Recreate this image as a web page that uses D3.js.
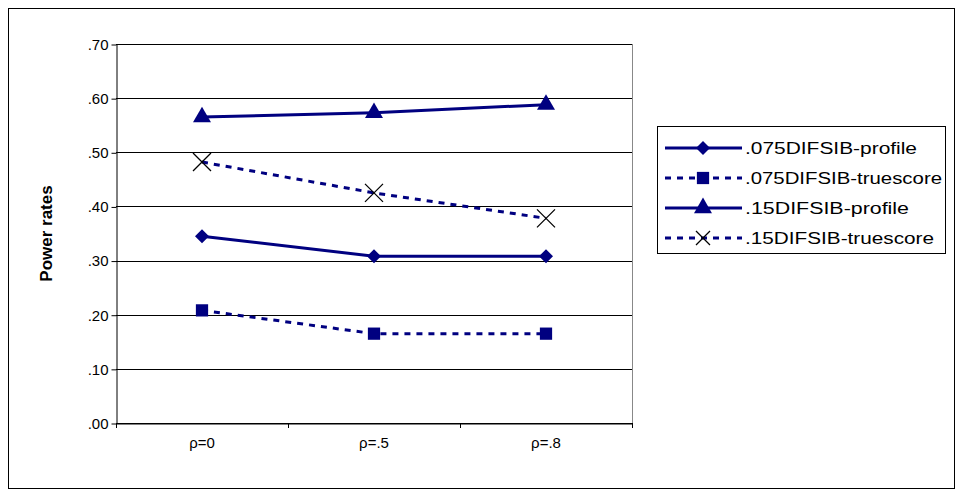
<!DOCTYPE html>
<html><head><meta charset="utf-8">
<script src="https://d3js.org/d3.v7.min.js"></script>
<style>body{margin:0;background:#fff}text{font-family:Arial,"Liberation Sans",sans-serif}</style>
</head><body>
<svg id="c" width="962" height="495"></svg>
<script>
// data
var categories = ["ρ=0", "ρ=.5", "ρ=.8"];
var seriesNames = [".075DIFSIB-profile", ".075DIFSIB-truescore", ".15DIFSIB-profile", ".15DIFSIB-truescore"];
var prof075 = [0.345, 0.308, 0.308];
var true075 = [0.208, 0.165, 0.165];
var prof15 = [0.565, 0.573, 0.588];
var true15 = [0.482, 0.425, 0.378];
var yTicks = [0, 0.1, 0.2, 0.3, 0.4, 0.5, 0.6, 0.7];

var svg = d3.select("#c");
var navy = "#000080";
var pLeft = 116, pRight = 632, pTop = 44, pBottom = 423;

svg.append("rect").attr("x", 8.5).attr("y", 8.5).attr("width", 946).attr("height", 480)
  .attr("fill", "none").attr("stroke", "#000");

var x = d3.scaleBand().domain(categories).range([pLeft, pRight]);
var y = d3.scaleLinear().domain([0, 0.7]).range([pBottom, pTop]);

// gridlines
svg.append("g").selectAll("line").data(yTicks).join("line")
  .attr("x1", pLeft).attr("x2", pRight)
  .attr("y1", d => Math.round(y(d)) + 0.5).attr("y2", d => Math.round(y(d)) + 0.5)
  .attr("stroke", "#000").attr("stroke-width", 1);
svg.append("line").attr("x1", pRight + 0.5).attr("x2", pRight + 0.5).attr("y1", pTop).attr("y2", pBottom)
  .attr("stroke", "#888");

var fmt = d => d3.format(".2f")(d).replace(/^0/, "");
var ya = svg.append("g").attr("transform", "translate(" + (pLeft + 0.5) + ",0.5)")
  .call(d3.axisLeft(y).tickValues(yTicks).tickFormat(fmt).tickSize(5).tickSizeOuter(0));
ya.selectAll("text").attr("font-size", 15).attr("fill", "#000");
ya.selectAll("line,path").attr("stroke", "#000");

var xa = svg.append("g").attr("transform", "translate(0," + (pBottom + 0.5) + ")")
  .call(d3.axisBottom(x).tickSize(0).tickSizeOuter(0).tickPadding(14));
xa.selectAll("text").attr("font-size", 15).attr("fill", "#000");
xa.selectAll("path").attr("stroke", "#000");
svg.append("g").selectAll("line").data(d3.range(categories.length + 1)).join("line")
  .attr("x1", i => pLeft + i * x.bandwidth() + 0.5).attr("x2", i => pLeft + i * x.bandwidth() + 0.5)
  .attr("y1", pBottom).attr("y2", pBottom + 5).attr("stroke", "#000");

svg.append("text").attr("transform", "translate(52," + ((pTop + pBottom) / 2) + ") rotate(-90)")
  .attr("text-anchor", "middle").attr("font-size", 17).attr("font-weight", "bold").text("Power rates");

var series = [
  {name: seriesNames[0], v: prof075, dash: null, sym: "diamond", tl: 172},
  {name: seriesNames[1], v: true075, dash: "6,6", sym: d3.symbolSquare, size: 150, tl: 197},
  {name: seriesNames[2], v: prof15, dash: null, sym: d3.symbolTriangle, size: 140, tl: 164},
  {name: seriesNames[3], v: true15, dash: "6,6", sym: "x", tl: 189}
];
var cx = d => x(d) + x.bandwidth() / 2;
var line = d3.line().x((d, i) => cx(categories[i])).y(d => y(d));

function marker(g, s, px, py, r) {
  if (s.sym === "x") {
    r = r || 9;
    g.append("path").attr("d", "M" + (px - r) + "," + (py - r) + "L" + (px + r) + "," + (py + r) +
      "M" + (px + r) + "," + (py - r) + "L" + (px - r) + "," + (py + r))
      .attr("stroke", "#000").attr("stroke-width", 1.3);
  } else if (s.sym === "diamond") {
    g.append("path").attr("d", "M" + px + "," + (py - 7) + "L" + (px + 7) + "," + py + "L" + px + "," + (py + 7) + "L" + (px - 7) + "," + py + "Z")
      .attr("fill", navy);
  } else {
    g.append("path").attr("d", d3.symbol().type(s.sym).size(s.size)())
      .attr("transform", "translate(" + px + "," + py + ")").attr("fill", navy);
  }
}

series.forEach(function(s) {
  svg.append("path").datum(s.v).attr("d", line).attr("fill", "none")
    .attr("stroke", navy).attr("stroke-width", 3).attr("stroke-dasharray", s.dash);
  var g = svg.append("g");
  s.v.forEach((v, i) => marker(g, s, cx(categories[i]), y(v)));
});

// legend
svg.append("rect").attr("x", 657.5).attr("y", 126.5).attr("width", 288).attr("height", 127)
  .attr("fill", "#fff").attr("stroke", "#000");
series.forEach(function(s, i) {
  var ly = 148 + i * 30;
  svg.append("line").attr("x1", 665).attr("x2", 742).attr("y1", ly).attr("y2", ly)
    .attr("stroke", navy).attr("stroke-width", 3).attr("stroke-dasharray", s.dash);
  marker(svg.append("g"), s, 703, ly, 7);
  svg.append("text").attr("x", 745).attr("y", ly + 6).attr("font-size", 16)
    .attr("textLength", s.tl).attr("lengthAdjust", "spacingAndGlyphs").text(s.name);
});
</script>
</body></html>
